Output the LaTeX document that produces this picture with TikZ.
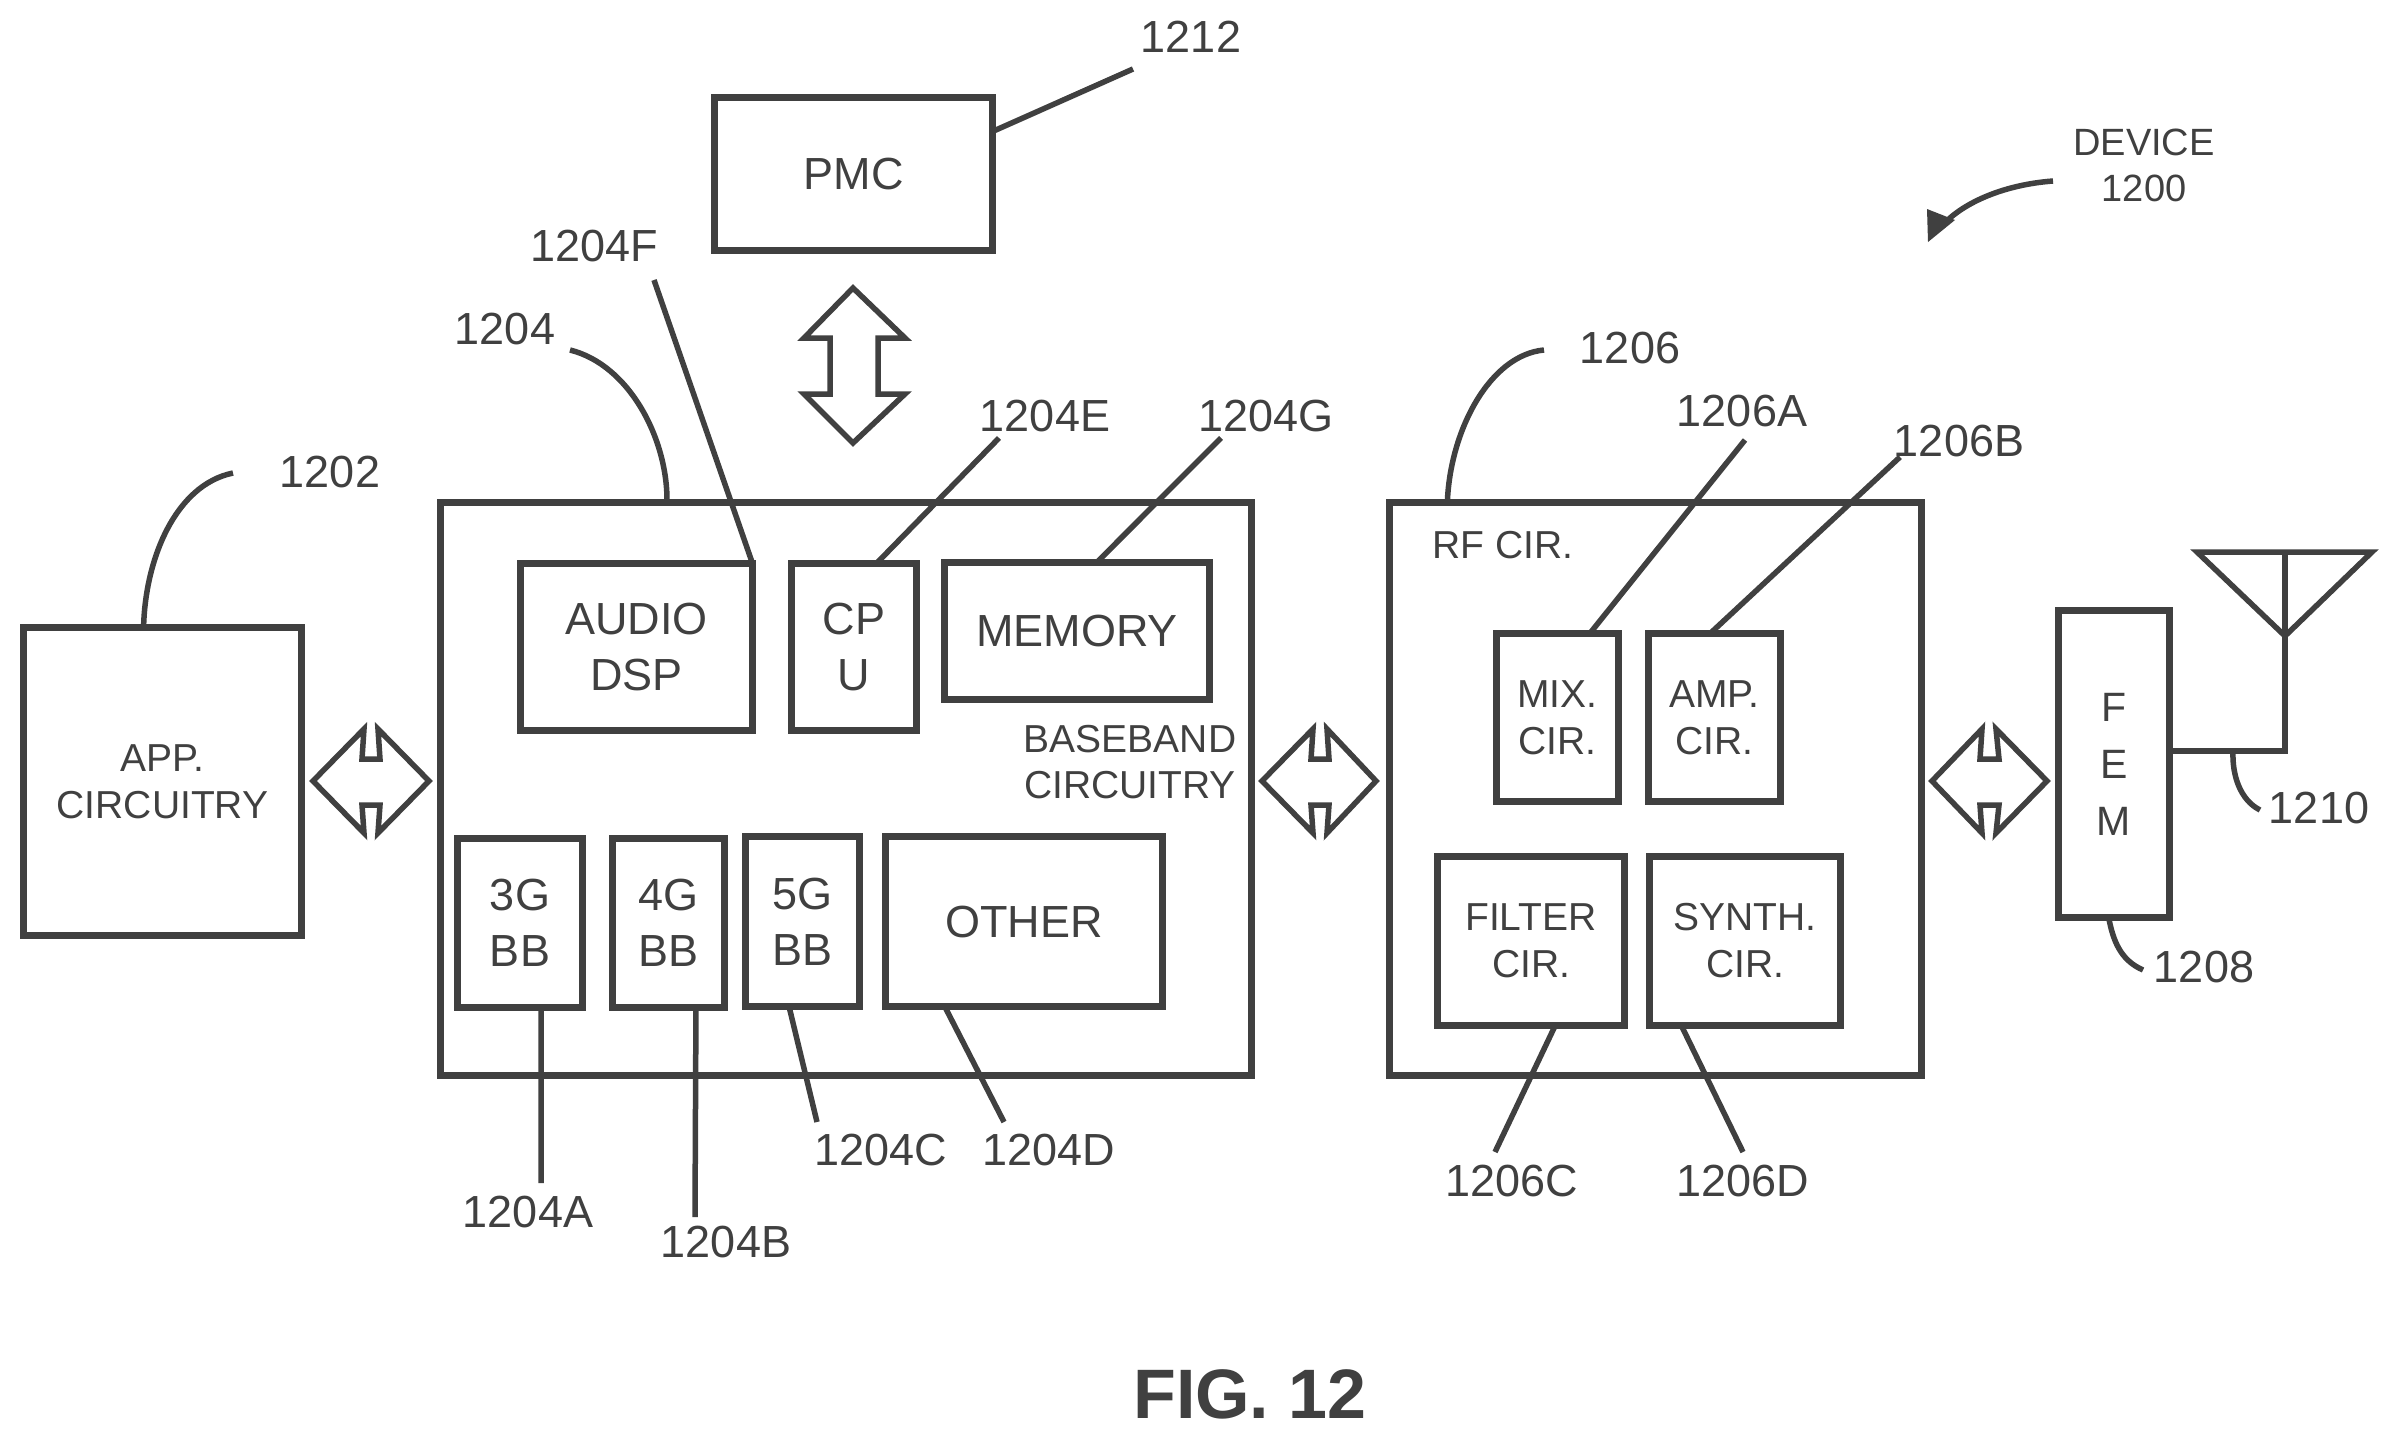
\documentclass[tikz,border=0pt]{standalone}
\usepackage{fontspec}
\setmainfont{Liberation Sans}
\definecolor{ink}{gray}{0.25}
\tikzset{
  blk/.style={draw=ink,line width=7pt,rectangle,inner sep=0pt,outer sep=0pt,align=center},
  big/.style={font=\fontsize{45}{56}\selectfont},
  small/.style={font=\fontsize{39}{47}\selectfont},
  lab/.style={text=ink,inner sep=0pt,outer sep=0pt,font=\fontsize{45}{54}\selectfont,align=center},
  labs/.style={lab,font=\fontsize{39}{46}\selectfont},
  lead/.style={draw=ink,line width=5.5pt,line cap=butt},
  dbl/.style={draw=ink,line width=5.5pt,line join=miter,fill=white},
}
\newcommand\bx[7][]{%
  \pgfmathsetmacro\cxx{(#3+#5)/2}\pgfmathsetmacro\cyy{(#4+#6)/2}%
  \pgfmathsetmacro\www{#5-#3-7}\pgfmathsetmacro\hhh{#6-#4-7}%
  \node[blk,text=ink,minimum width=\www pt,minimum height=\hhh pt,#1] (#2) at (\cxx,\cyy) {#7};}
\begin{document}
\begin{tikzpicture}[x=1pt,y=-1pt]
\useasboundingbox[fill=white] (0,0) rectangle (2394,1440);

% containers
\bx[big]{bb}{437}{499}{1255}{1079}{}
\bx[big]{rf}{1386}{499}{1925}{1079}{}

% boxes
\bx[big]{pmc}{711}{94}{996}{254}{PMC}
\bx[small]{app}{20}{624}{305}{939}{APP.\\CIRCUITRY}
\bx[big]{audio}{517}{560}{756}{734}{AUDIO\\DSP}
\bx[big]{cpu}{788}{560}{920}{734}{CP\\U}
\bx[big]{memory}{941}{559}{1213}{703}{MEMORY}
\bx[big]{g3}{454}{835}{586}{1011}{3G\\BB}
\bx[big]{g4}{609}{835}{728}{1011}{4G\\BB}
\bx[big]{g5}{742}{833}{863}{1010}{5G\\BB}
\bx[big]{other}{882}{833}{1166}{1010}{OTHER}
\bx[small]{mix}{1493}{630}{1622}{805}{MIX.\\CIR.}
\bx[small]{amp}{1645}{630}{1784}{805}{AMP.\\CIR.}
\bx[small]{filter}{1434}{853}{1628}{1029}{FILTER\\CIR.}
\bx[small]{synth}{1646}{853}{1844}{1029}{SYNTH.\\CIR.}
\bx[font=\fontsize{41}{57}\selectfont]{fem}{2055}{607}{2173}{921}{F\\E\\M}

% free texts
\node[labs] (tbb) at (1130,762) {BASEBAND\\CIRCUITRY};
\node[labs] (trf) at (1503,545) {RF CIR.};
\node[labs,font=\fontsize{38}{46}\selectfont] (tdev) at (2144,165) {DEVICE\\1200};
\node[lab,font=\fontsize{70}{80}\selectfont\bfseries,text=ink] (tfig) at (1250,1394) {FIG. 12};

% reference labels
\node[lab] (l1212) at (1191,37) {1212};
\node[lab] (l1204F) at (594,246) {1204F};
\node[lab] (l1204) at (505,329) {1204};
\node[lab] (l1202) at (330,472) {1202};
\node[lab] (l1204E) at (1045,416) {1204E};
\node[lab] (l1204G) at (1266,416) {1204G};
\node[lab] (l1206) at (1630,348) {1206};
\node[lab] (l1206A) at (1742,411) {1206A};
\node[lab] (l1206B) at (1959,441) {1206B};
\node[lab] (l1204A) at (528,1212) {1204A};
\node[lab] (l1204B) at (726,1242) {1204B};
\node[lab] (l1204C) at (881,1150) {1204C};
\node[lab] (l1204D) at (1049,1150) {1204D};
\node[lab] (l1206C) at (1512,1181) {1206C};
\node[lab] (l1206D) at (1743,1181) {1206D};
\node[lab] (l1208) at (2204,967) {1208};
\node[lab] (l1210) at (2319,808) {1210};

% free ends
\coordinate (e1212) at (1133,69);
\coordinate (e1204F) at (654,280);
\coordinate (e1204) at (570,350);
\coordinate (e1202) at (233,473);
\coordinate (e1204E) at (999,438);
\coordinate (e1204G) at (1221,438);
\coordinate (e1206) at (1544,350);
\coordinate (e1206A) at (1745,440);
\coordinate (e1206B) at (1900,457);
\coordinate (e1204A) at (541,1183);
\coordinate (e1204B) at (695,1217);
\coordinate (e1204C) at (817,1122);
\coordinate (e1204D) at (1004,1122);
\coordinate (e1206C) at (1495,1152);
\coordinate (e1206D) at (1743,1152);
\coordinate (e1208) at (2143,970);
\coordinate (e1210) at (2260,810);
\coordinate (s1210) at (2233,751);

% leaders
\draw[lead] (pmc.17) -- (e1212);
\draw[lead] (e1204F) -- (audio.north east);
\draw[lead] (e1204) .. controls (630,365) and (668,440) .. (bb.122.6);
\draw[lead] (e1202) .. controls (175,485) and (145,560) .. (app.97.2);
\draw[lead] (e1204E) -- (cpu.75.6);
\draw[lead] (e1204G) -- (memory.74);
\draw[lead] (e1206) .. controls (1490,355) and (1450,430) .. (rf.126);
\draw[lead] (e1206A) -- (mix.69.6);
\draw[lead] (e1206B) -- (amp.93.4);
\draw[lead] (g3.-76.4) -- (e1204A);
\draw[lead] (g4.-72.7) -- (e1204B);
\draw[lead] (g5.-99.3) -- (e1204C);
\draw[lead] (other.-133.4) -- (e1204D);
\draw[lead] (filter.-74.5) -- (e1206C);
\draw[lead] (synth.-127.4) -- (e1206D);
\draw[lead] (fem.-92.2) .. controls (2113,940) and (2120,960) .. (e1208);
\draw[lead] (s1210) .. controls (2232,775) and (2240,800) .. (e1210);

% device arrow
\draw[lead] (2053,181) .. controls (2000,185) and (1960,205) .. (1942,226);
\fill[ink] (1928,242) -- (1927,209) -- (1955,220) -- cycle;

% antenna
\coordinate (anttl) at (2197,552);
\coordinate (anttr) at (2372,552);
\coordinate (antap) at (2285,636);
\coordinate (anttop) at (2285,552);
\coordinate (antbot) at (2285,751);
\draw[lead] (anttl) -- (anttr) -- (antap) -- cycle;
\draw[lead] (anttop) -- (antbot) -- (antbot -| fem.east);

% double arrows
\draw[dbl] (853,288) -- (905,338) -- (878,338) -- (878,394) -- (905,394) -- (853,443)
  -- (804,394) -- (830,394) -- (830,338) -- (804,338) -- cycle;
\draw[dbl] (313,781) -- (364,729) -- (362,759) -- (380,759) -- (378,729) -- (429,781)
  -- (378,833) -- (380,805) -- (362,805) -- (364,833) -- cycle;
\draw[dbl] (1262,781) -- (1313,729) -- (1311,759) -- (1329,759) -- (1327,729) -- (1376,781)
  -- (1327,833) -- (1329,805) -- (1311,805) -- (1313,833) -- cycle;
\draw[dbl] (1932,781) -- (1982,729) -- (1980,759) -- (1999,759) -- (1996,729) -- (2047,781)
  -- (1996,833) -- (1999,805) -- (1980,805) -- (1982,833) -- cycle;
\end{tikzpicture}
\end{document}
